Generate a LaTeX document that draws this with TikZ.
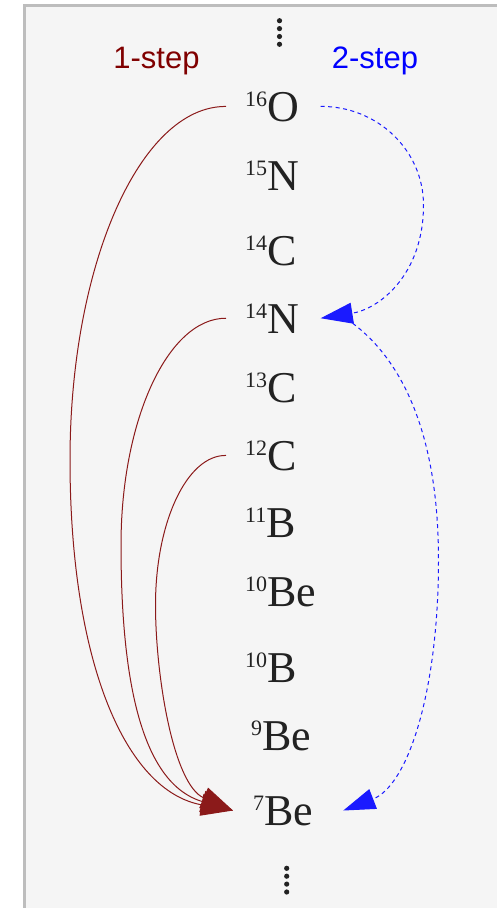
\documentclass[tikz,border=0pt]{standalone}
\usepackage{fontspec}
\setmainfont{Liberation Serif}
\newfontfamily\lsans{Liberation Sans}
\usetikzlibrary{arrows.meta,calc}
\definecolor{bgc}{RGB}{245,245,245}
\definecolor{bordc}{RGB}{189,189,189}
\definecolor{onec}{RGB}{139,26,26}
\definecolor{onetext}{RGB}{128,0,0}
\definecolor{twoc}{RGB}{26,26,255}
\definecolor{nucc}{RGB}{34,34,34}
\newcommand\nuclide[2]{\raisebox{15pt}{\fontsize{22}{22}\selectfont #1}#2}
\begin{document}
\begin{tikzpicture}[x=1pt,y=-1pt,
  nuc/.style={anchor=base west, inner sep=0pt, text=nucc, font=\fontsize{44}{44}\selectfont},
  steplabel/.style={anchor=base, inner sep=0pt, font=\lsans\fontsize{31}{31}\selectfont},
  onestep/.style={draw=onec, line width=1pt, -{Triangle[length=32pt,width=22pt]}},
  twostep/.style={draw=twoc, line width=1pt, dash pattern=on 4pt off 3.5pt, -{Triangle[length=32pt,width=21pt]}},
  dotmark/.style={fill=nucc}]
\useasboundingbox (0,0) rectangle (497,908);
\fill[white] (0,0) rectangle (497,908);
\fill[bgc] (24.7,5.3) rectangle (497,908);
\draw[bordc, line width=2.7pt] (24.7,908) -- (24.7,5.3) -- (497,5.3);

% vertical ellipses
\foreach \yy in {20.7,28.6,36.5,44.3} \fill[dotmark] (279.5,\yy) circle (2.6pt);
\foreach \yy in {868.3,876.2,884.1,892} \fill[dotmark] (286.7,\yy) circle (2.6pt);

% step labels
\node[steplabel, text=onetext] (lab1) at (156.5,68) {1-step};
\node[steplabel, text=blue] (lab2) at (375,68) {2-step};

% nuclides
\node[nuc] (o16)  at (245,121) {\nuclide{16}{O}};
\node[nuc] (n15)  at (245,190) {\nuclide{15}{N}};
\node[nuc] (c14)  at (245,265) {\nuclide{14}{C}};
\node[nuc] (n14)  at (245,333) {\nuclide{14}{N}};
\node[nuc] (c13)  at (245,402) {\nuclide{13}{C}};
\node[nuc] (c12)  at (245,470) {\nuclide{12}{C}};
\node[nuc] (b11)  at (245,537) {\nuclide{11}{B}};
\node[nuc] (be10) at (245,606) {\nuclide{10}{Be}};
\node[nuc] (b10)  at (245,682) {\nuclide{10}{B}};
\node[nuc] (be9)  at (251,750) {\nuclide{9}{Be}};
\node[nuc] (be7)  at (253,825) {\nuclide{7}{Be}};

% 1-step connectors
\draw[onestep] ($(o16.west)+(-19,0)$) .. controls (140,106) and (70,265) .. (70,460)
  .. controls (70,660) and (124.6,790.9) .. ($(be7.west)+(-20,0)$);
\draw[onestep] ($(n14.west)+(-19,0)$) .. controls (168,318) and (121,420) .. (121,545)
  .. controls (121,675) and (139.8,783.2) .. ($(be7.west)+(-20,0)$);
\draw[onestep] ($(c12.west)+(-19,0)$) .. controls (187,455) and (155.5,522) .. (155.5,605)
  .. controls (155.5,675) and (173.1,784.6) .. ($(be7.west)+(-20,0)$);

% 2-step connectors
\draw[twostep] ($(o16.east)+(21.5,0)$) .. controls (377,106) and (423.5,150) .. (423.5,205)
  .. controls (423.5,275) and (379,309) .. ($(n14.east)+(21.5,0)$);
\draw[twostep] ($(n14.east)+(53.5,5)$) .. controls (400,359) and (438.5,430) .. (438.5,560)
  .. controls (438.5,690) and (408.5,785.3) .. ($(be7.east)+(30,0)$);
\end{tikzpicture}
\end{document}
